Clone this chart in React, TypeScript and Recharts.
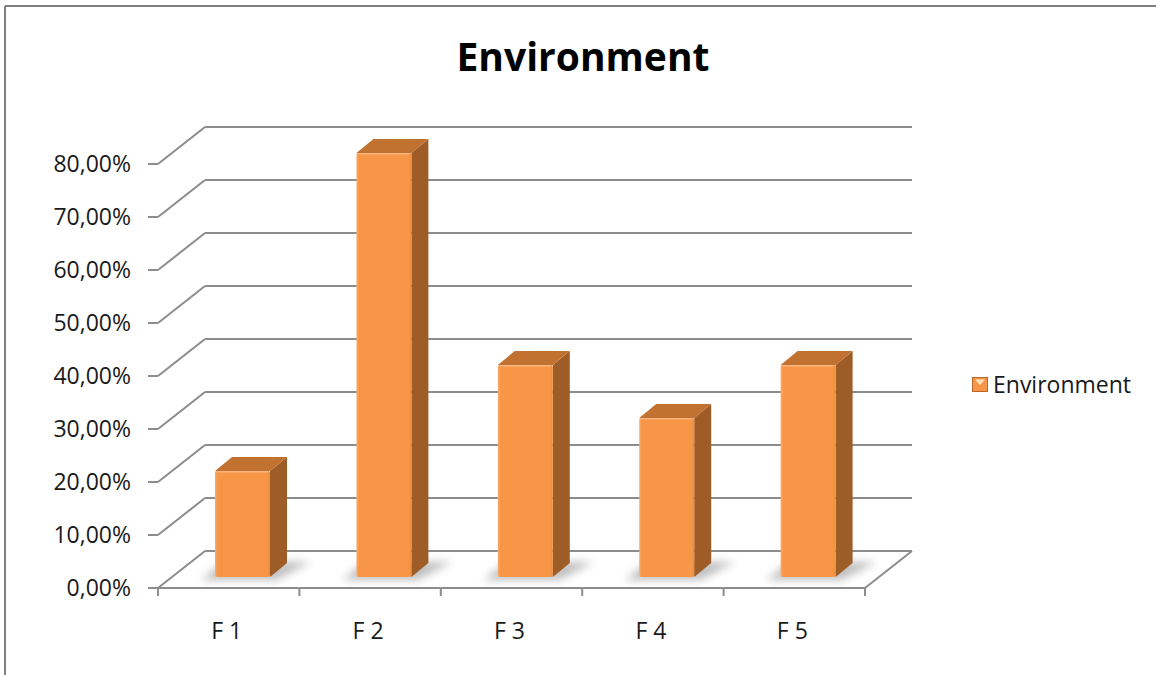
import React from 'react';
import { BarChart, Bar, XAxis, YAxis, CartesianGrid, Legend } from 'recharts';

// ---- data ----
const categories = ['F 1', 'F 2', 'F 3', 'F 4', 'F 5'];
const environmentValues = [0.2, 0.8, 0.4, 0.3, 0.4];
const yTicks = [0, 0.1, 0.2, 0.3, 0.4, 0.5, 0.6, 0.7, 0.8];
const seriesName = 'Environment';
const chartTitle = 'Environment';

const data = categories.map((c, i) => ({ name: c, [seriesName]: environmentValues[i] }));

// ---- layout / style ----
const W = 1156;
const H = 675;
const PLOT_LEFT = 205;
const PLOT_RIGHT = 912;
const PLOT_TOP = 127;
const PLOT_BOTTOM = 551;
const LEGEND_W = 184;
const DEPTH_X = -47; // front edge of floor relative to back wall
const DEPTH_Y = 37;
const BAR_FX = -33; // bar front face relative to back wall
const BAR_FY = 26;
const BAR_DX = 17; // bar depth
const BAR_DY = -14;
const BW = (PLOT_RIGHT - PLOT_LEFT) / categories.length;
const FONT = '"Open Sans", "Liberation Sans", sans-serif';
const GRID = '#8c8c8c';
const TEXT = '#1a1a1a';

const fmt = (v: number) => (v * 100).toFixed(2).replace('.', ',') + '%';

function YTick(props: any) {
  const { x, y, payload } = props;
  const fx = x + DEPTH_X;
  const fy = y + DEPTH_Y;
  return (
    <g>
      <line x1={x} y1={y} x2={fx} y2={fy} stroke={GRID} strokeWidth={2} />
      <line x1={fx} y1={fy} x2={fx - 10} y2={fy} stroke={GRID} strokeWidth={2} />
      <text x={fx - 27} y={fy + 8} textAnchor="end" fontFamily={FONT} fontSize={23} fill={TEXT}>
        {fmt(payload.value)}
      </text>
    </g>
  );
}

function XTick(props: any) {
  const { x, y, payload, index } = props;
  const left = x - BW / 2 + DEPTH_X;
  const right = x + BW / 2 + DEPTH_X;
  const fy = y + DEPTH_Y;
  const isLast = index === categories.length - 1;
  return (
    <g>
      <line x1={left} y1={fy} x2={right} y2={fy} stroke={GRID} strokeWidth={2} />
      <line x1={left} y1={fy} x2={left} y2={fy + 8} stroke={GRID} strokeWidth={2} />
      {isLast && (
        <>
          <line x1={right} y1={fy} x2={right} y2={fy + 8} stroke={GRID} strokeWidth={2} />
          <line x1={right} y1={fy} x2={right - DEPTH_X} y2={y} stroke={GRID} strokeWidth={2} />
        </>
      )}
      <text x={x + DEPTH_X - 2} y={fy + 51} textAnchor="middle" fontFamily={FONT} fontSize={23} fill={TEXT}>
        {payload.value}
      </text>
    </g>
  );
}

function Bar3D(props: any) {
  const { x, y, width, height, index } = props;
  if (height == null || width == null) return null;
  const fx = x + BAR_FX;
  const fy = y + BAR_FY;
  const w = width;
  const h = height;
  const bottom = fy + h;
  const id = `b3d-${index}`;
  return (
    <g>
      <defs>
        <filter id={`${id}-blur`} x="-50%" y="-50%" width="200%" height="200%">
          <feGaussianBlur stdDeviation={4} />
        </filter>
        <linearGradient id={`${id}-front`} x1="0" y1="0" x2="1" y2="0">
          <stop offset="0" stopColor="#F9AC6E" />
          <stop offset="0.05" stopColor="#F79646" />
          <stop offset="0.95" stopColor="#F79646" />
          <stop offset="1" stopColor="#EE8C3D" />
        </linearGradient>
      </defs>
      <polygon
        points={`${fx - 14},${bottom + 3} ${fx + w + 6},${bottom + 3} ${fx + w + BAR_DX + 24},${bottom + BAR_DY - 1} ${fx + BAR_DX - 8},${bottom + BAR_DY - 1}`}
        fill="#8a8a8a"
        opacity={0.55}
        filter={`url(#${id}-blur)`}
      />
      <polygon
        points={`${fx + w},${fy} ${fx + w + BAR_DX},${fy + BAR_DY} ${fx + w + BAR_DX},${bottom + BAR_DY} ${fx + w},${bottom}`}
        fill="#9E5C27"
      />
      <polygon
        points={`${fx},${fy} ${fx + BAR_DX},${fy + BAR_DY} ${fx + w + BAR_DX},${fy + BAR_DY} ${fx + w},${fy}`}
        fill="#C27230"
      />
      <rect x={fx} y={fy} width={w} height={h} fill={`url(#${id}-front)`} rx={2} />
      <line x1={fx + 2} y1={fy + 0.8} x2={fx + w - 2} y2={fy + 0.8} stroke="#FAB47E" strokeWidth={1.5} />
    </g>
  );
}

const renderLegend = () => (
  <svg width={LEGEND_W} height={32} style={{ overflow: 'visible' }}>
    <rect x={4.5} y={7.5} width={15} height={14} fill="#F79646" stroke="#B8692A" strokeWidth={1} />
    <polygon points="7,9.5 17,9.5 12,15" fill="#FCE3BD" />
    <text x={25} y={23} fontFamily={FONT} fontSize={23} fill={TEXT}>
      {seriesName}
    </text>
  </svg>
);

export default function App() {
  return (
    <div style={{ position: 'absolute', left: 0, top: 0, width: W, height: H, background: '#fff' }}>
      <svg width={W} height={H} style={{ position: 'absolute', left: 0, top: 0 }}>
        <line x1={5} y1={6} x2={W} y2={6} stroke="#808080" strokeWidth={2} />
        <line x1={5} y1={6} x2={5} y2={H} stroke="#808080" strokeWidth={2} />
        <text x={583} y={71} textAnchor="middle" fontFamily={FONT} fontWeight={700} fontSize={39} fill="#000">
          {chartTitle}
        </text>
      </svg>
      <div style={{ position: 'absolute', left: 0, top: 0 }}>
        <BarChart
          width={W}
          height={H}
          data={data}
          margin={{ top: PLOT_TOP, right: W - PLOT_RIGHT - LEGEND_W, bottom: 0, left: 0 }}
          barSize={55}
        >
          <CartesianGrid vertical={false} stroke={GRID} strokeWidth={2} strokeDasharray="" />
          <YAxis
            width={PLOT_LEFT}
            domain={[0, 0.8]}
            ticks={yTicks}
            interval={0}
            axisLine={false}
            tickLine={false}
            tickSize={0}
            tickMargin={0}
            tick={<YTick />}
          />
          <XAxis
            dataKey="name"
            height={H - PLOT_BOTTOM}
            interval={0}
            axisLine={false}
            tickLine={false}
            tickSize={0}
            tickMargin={0}
            tick={<XTick />}
          />
          <Legend
            layout="horizontal"
            verticalAlign="middle"
            align="right"
            content={renderLegend}
            wrapperStyle={{ position: 'absolute', left: 968, top: 370, right: 'auto', bottom: 'auto', width: LEGEND_W, height: 32 }}
          />
          <Bar dataKey={seriesName} shape={<Bar3D />} isAnimationActive={false} />
        </BarChart>
      </div>
    </div>
  );
}
